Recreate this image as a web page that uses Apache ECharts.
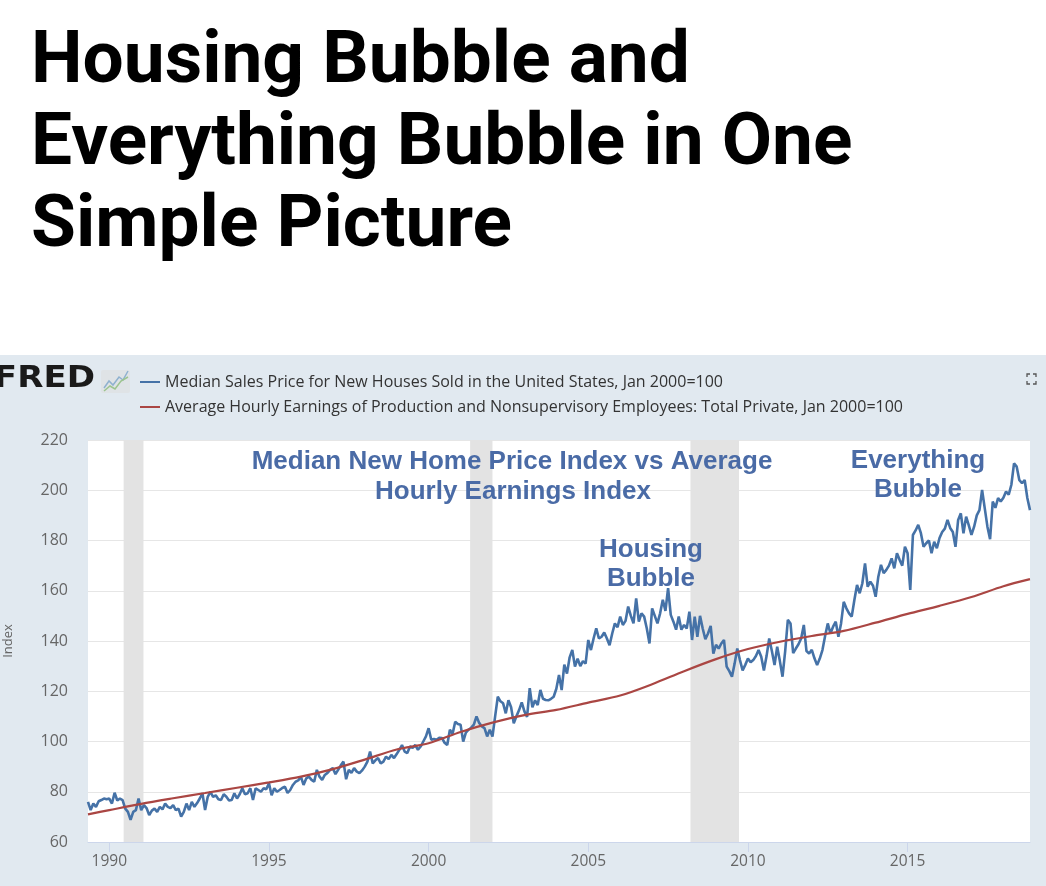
<!DOCTYPE html>
<html>
<head>
<meta charset="utf-8">
<title>Housing Bubble and Everything Bubble in One Simple Picture</title>
<script src="https://cdn.jsdelivr.net/npm/echarts@6/dist/echarts.min.js"></script>
<style>
  html, body { margin: 0; padding: 0; background: #ffffff; }
  #chart { width: 1046px; height: 886px; }
</style>
</head>
<body>
<div id="chart"></div>
<script>
// ---------------- DATA ----------------
// Median Sales Price for New Houses Sold, Jan 2000=100, monthly, May 1989 .. Nov 2018
const homeStartYear = 1989;
const homeStartMonth = 5;
const homePrice = [
  76.0, 72.7, 75.3, 74.0, 76.2, 76.7, 77.3, 77.0,                                   // 1989 May-Dec
  77.3, 75.3, 79.6, 76.5, 77.3, 76.7, 73.3, 72.0, 68.8, 72.0, 72.7, 77.3,           // 1990
  72.7, 74.7, 73.5, 70.7, 72.5, 73.3, 72.0, 74.0, 73.0, 75.3, 74.0, 73.5,           // 1991
  74.7, 72.7, 73.3, 70.1, 72.0, 75.3, 72.7, 76.0, 74.0, 75.5, 77.3, 79.4,           // 1992
  72.7, 78.0, 80.0, 78.0, 78.6, 77.0, 76.7, 79.0, 78.0, 76.5, 76.7, 79.4,           // 1993
  77.3, 79.0, 81.4, 79.0, 79.4, 81.4, 76.7, 81.4, 80.7, 80.0, 81.4, 81.0,           // 1994
  83.4, 78.6, 81.4, 80.0, 80.7, 81.5, 82.0, 79.5, 80.7, 82.7, 84.0, 84.5,           // 1995
  86.0, 82.7, 85.3, 86.0, 84.7, 84.0, 88.7, 86.0, 84.7, 86.7, 87.5, 88.7,           // 1996
  89.4, 87.0, 88.7, 90.5, 92.0, 85.0, 88.7, 87.5, 89.4, 88.0, 87.4, 88.5,           // 1997
  90.0, 92.0, 96.0, 91.3, 92.5, 93.4, 91.3, 92.0, 94.0, 93.0, 94.7, 93.4,           // 1998
  95.0, 96.7, 98.6, 96.0, 95.4, 98.0, 97.5, 98.6, 96.7, 98.0, 100.0, 102.0,         // 1999
  105.3, 100.7, 101.0, 100.7, 101.5, 101.4, 99.5, 98.6, 104.7, 103.0, 107.9, 107.0, // 2000
  106.7, 100.0, 103.5, 104.7, 105.5, 106.7, 110.0, 107.4, 106.0, 105.3, 102.0, 104.7, // 2001
  102.0, 110.0, 117.8, 116.0, 115.2, 111.2, 116.4, 113.6, 107.2, 110.0, 112.5, 115.6, // 2002
  112.0, 109.8, 121.2, 113.6, 116.4, 114.5, 120.5, 117.0, 116.5, 116.4, 117.0, 117.8, // 2003
  121.0, 126.5, 120.5, 130.6, 127.0, 133.5, 136.4, 129.8, 133.0, 130.0, 132.0, 131.0, // 2004
  140.4, 136.4, 141.0, 145.0, 141.0, 141.7, 143.4, 141.0, 138.3, 143.0, 147.0, 145.5, // 2005
  149.7, 146.4, 148.0, 153.7, 150.0, 147.0, 157.0, 147.7, 151.0, 149.7, 145.0, 139.0, // 2006
  153.0, 150.0, 147.0, 151.0, 156.4, 152.0, 161.0, 150.4, 147.7, 144.5, 149.7, 144.5, // 2007
  146.4, 145.0, 151.7, 140.4, 149.7, 141.7, 150.0, 145.0, 140.7, 143.0, 146.0, 135.0, // 2008
  138.5, 137.0, 139.0, 140.4, 129.8, 128.0, 125.8, 131.0, 137.0, 132.4, 128.3, 130.5, // 2009
  133.0, 131.5, 132.4, 134.0, 136.4, 133.7, 128.3, 134.0, 141.0, 136.0, 130.4, 137.7, // 2010
  132.0, 125.8, 136.0, 148.4, 147.0, 135.2, 137.0, 138.7, 141.0, 146.4, 136.0, 135.0, // 2011
  136.5, 133.1, 130.4, 133.0, 136.4, 142.0, 147.0, 143.0, 145.7, 147.7, 141.7, 147.0, // 2012
  155.6, 153.0, 151.0, 149.7, 156.3, 162.3, 159.0, 163.0, 170.9, 161.6, 163.6, 162.0, // 2013
  157.6, 165.6, 170.3, 167.0, 168.3, 170.0, 172.9, 168.9, 174.9, 172.3, 170.0, 177.5, // 2014
  174.9, 160.3, 182.2, 184.0, 186.2, 182.9, 177.5, 178.9, 180.0, 174.9, 179.5, 176.9, // 2015
  181.0, 183.4, 184.7, 188.2, 185.0, 183.4, 177.5, 188.2, 190.8, 182.9, 189.5, 186.0, // 2016
  182.2, 185.5, 190.0, 192.1, 200.1, 192.8, 185.5, 180.5, 195.5, 193.0, 196.9, 195.5, // 2017
  197.0, 199.5, 198.2, 202.2, 210.7, 209.4, 204.0, 202.8, 204.1, 196.9, 192.1        // 2018 Jan-Nov
];

// Average Hourly Earnings of Production and Nonsupervisory Employees, Jan 2000=100
const earningsYears = [1989.333, 1990, 1991, 1992, 1993, 1994, 1995, 1996, 1997, 1998, 1999,
  2000, 2001, 2002, 2003, 2004, 2005, 2006, 2007, 2008, 2009, 2010, 2011, 2012, 2013, 2014,
  2015, 2016, 2017, 2018, 2018.833];
const earningsValues = [71.0, 72.7, 75.2, 77.4, 79.5, 81.6, 83.7, 86.0, 89.0, 92.8, 96.8,
  99.3, 103.8, 107.5, 110.5, 112.6, 115.5, 118.3, 122.8, 128.0, 132.8, 136.8, 139.7, 142.0, 144.0, 147.3,
  150.8, 154.0, 157.5, 161.8, 164.6];

// Recession shading (decimal years)
const recessionStarts = [1990.45, 2001.30, 2008.20];
const recessionEnds   = [1991.07, 2002.00, 2009.72];

// Axis ticks
const xTickYears = [1990, 1995, 2000, 2005, 2010, 2015];
const yMin = 60, yMax = 220, yStep = 20;

const seriesNames = [
  'Median Sales Price for New Houses Sold in the United States, Jan 2000=100',
  'Average Hourly Earnings of Production and Nonsupervisory Employees: Total Private, Jan 2000=100'
];

// ---------------- BUILD ----------------
const monthYear = i => homeStartYear + (homeStartMonth - 1 + i) / 12;
const homeData = homePrice.map((v, i) => [monthYear(i), v]);
const earnData = earningsYears.map((y, i) => [y, earningsValues[i]]);
const xMin = monthYear(0);
const xMax = monthYear(homePrice.length - 1);
const recessionAreas = recessionStarts.map((s, i) => [{ xAxis: s }, { xAxis: recessionEnds[i] }]);

const annoColor = '#4a6ba6';
const annoFont = 'bold 26px "Liberation Sans", Arial, sans-serif';
function anno(text, x, y) {
  return { type: 'text', x: x, y: y, z: 100, silent: true,
    style: { text: text, font: annoFont, fill: annoColor, align: 'center', verticalAlign: 'middle' } };
}
function corner(points) {
  return { type: 'polyline', z: 10, silent: true, shape: { points: points },
    style: { stroke: '#555555', lineWidth: 1.3, fill: null } };
}

const chart = echarts.init(document.getElementById('chart'), null, { renderer: 'canvas' });
chart.setOption({
  animation: false,
  backgroundColor: '#ffffff',
  title: {
    text: 'Housing Bubble and\nEverything Bubble in One\nSimple Picture',
    left: 26, top: 18,
    textStyle: { fontFamily: 'Roboto', fontWeight: 'bold', fontSize: 73, lineHeight: 82, color: '#000000' }
  },
  legend: {
    orient: 'vertical', left: 140, top: 373, padding: 0,
    itemWidth: 20, itemHeight: 2, itemGap: 7, icon: 'rect',
    textStyle: { fontFamily: '"Open Sans", sans-serif', fontSize: 16, color: '#333333', lineHeight: 18 },
    data: seriesNames
  },
  grid: { left: 88, right: 16, top: 440, bottom: 44, show: true, backgroundColor: '#ffffff', borderWidth: 0,
    containLabel: false, outerBoundsMode: 'none' },
  xAxis: {
    type: 'value', min: xMin, max: xMax,
    axisLine: { show: true, lineStyle: { color: '#ccd6eb', width: 1 } },
    axisTick: { show: true, customValues: xTickYears, length: 10, lineStyle: { color: '#ccd6eb' } },
    axisLabel: { customValues: xTickYears, formatter: v => String(v), fontFamily: '"Open Sans", sans-serif',
      fontSize: 15.5, color: '#666666', margin: 12 },
    splitLine: { show: false }
  },
  yAxis: {
    type: 'value', min: yMin, max: yMax, interval: yStep,
    name: 'Index', nameLocation: 'middle', nameGap: 73, nameRotate: 90,
    nameTextStyle: { fontFamily: '"Open Sans", sans-serif', fontSize: 13, color: '#666666' },
    axisLine: { show: false }, axisTick: { show: false },
    axisLabel: { fontFamily: '"Open Sans", sans-serif', fontSize: 16, color: '#666666', margin: 20 },
    splitLine: { lineStyle: { color: '#e6e6e6', width: 1 } }
  },
  series: [
    {
      name: seriesNames[0], type: 'line', data: homeData, showSymbol: false, symbol: 'none',
      lineStyle: { color: '#4572a7', width: 2.6 }, itemStyle: { color: '#4572a7' },
      markArea: { silent: true, itemStyle: { color: '#e3e3e3' }, data: recessionAreas }, z: 3
    },
    {
      name: seriesNames[1], type: 'line', data: earnData, showSymbol: false, symbol: 'none', smooth: 0.3,
      lineStyle: { color: '#aa4643', width: 2.2 }, itemStyle: { color: '#aa4643' }, z: 4
    }
  ],
  graphic: [
    { type: 'rect', z: -100, silent: true, shape: { x: 0, y: 355, width: 1046, height: 531 }, style: { fill: '#e1e9f0' } },
    // FRED logo
    { type: 'text', z: 10, silent: true, x: 95, y: 379, scaleX: 1.1,
      style: { text: 'FRED', font: 'bold 31px "DejaVu Sans", sans-serif', fill: '#1a1a1a', align: 'right', verticalAlign: 'middle' } },
    { type: 'rect', z: 9, silent: true, shape: { x: 101, y: 370, width: 29, height: 23, r: 2 }, style: { fill: '#dfe3e6' } },
    { type: 'polyline', z: 10, silent: true, shape: { points: [[104, 388], [109, 381], [113, 385], [119, 377], [123, 380], [128, 371]] },
      style: { stroke: '#8fb1cf', lineWidth: 1.5, fill: null } },
    { type: 'polyline', z: 10, silent: true, shape: { points: [[104, 391], [110, 386], [115, 389], [121, 381], [128, 377]] },
      style: { stroke: '#9cc48f', lineWidth: 1.5, fill: null } },
    // expand icon
    corner([[1027, 377], [1027, 374], [1030, 374]]),
    corner([[1033, 374], [1036, 374], [1036, 377]]),
    corner([[1027, 381], [1027, 384], [1030, 384]]),
    corner([[1033, 384], [1036, 384], [1036, 381]]),
    // annotations
    anno('Median New Home Price Index vs Average', 512, 462),
    anno('Hourly Earnings Index', 513, 492),
    anno('Housing', 651, 550),
    anno('Bubble', 651, 579),
    anno('Everything', 918, 461),
    anno('Bubble', 918, 490)
  ]
});
</script>
</body>
</html>
